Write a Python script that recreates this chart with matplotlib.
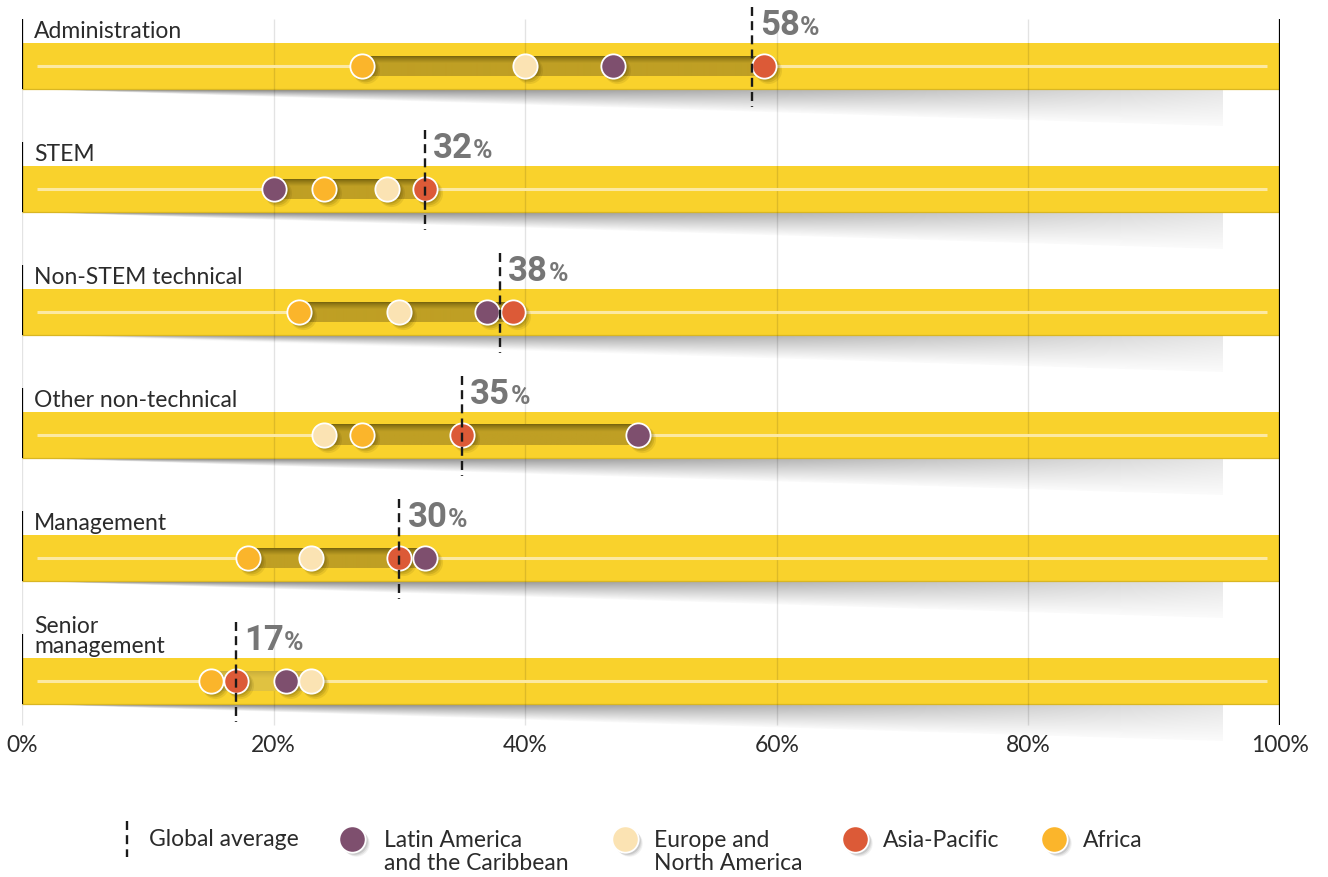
import numpy as np
import matplotlib
matplotlib.use("Agg")
import matplotlib.pyplot as plt
from matplotlib.patches import Polygon
from matplotlib.lines import Line2D
from matplotlib.transforms import offset_copy

# ---------------- data ----------------
categories = ["Administration", "STEM", "Non-STEM technical",
              "Other non-technical", "Management", "Senior\nmanagement"]
global_avg = [58, 32, 38, 35, 30, 17]
latin_america = [47, 20, 37, 49, 32, 21]
europe_na = [40, 29, 30, 24, 23, 23]
asia_pacific = [59, 32, 39, 35, 30, 17]
africa = [27, 24, 22, 27, 18, 15]
tick_values = [0, 20, 40, 60, 80, 100]
tick_labels = ["0%", "20%", "40%", "60%", "80%", "100%"]
legend_labels = ["Global average", "Latin America\nand the Caribbean",
                 "Europe and\nNorth America", "Asia-Pacific", "Africa"]

# ---------------- style ----------------
YELLOW = "#F9D22C"
PALE = "#FCE9A2"
RANGE = "#BF9F24"
RANGE_DARK = "#7A660E"
C_LATIN = "#7E4F6E"
C_EUROPE = "#FBE3B3"
C_ASIA = "#DC5A37"
C_AFRICA = "#FBB52B"
TXT = "#2b2b2b"
NUM = "#767676"
FONT = "Lato"
FS = 16.5

W, H = 1328, 878
fig = plt.figure(figsize=(W / 100, H / 100), dpi=100)
ax = fig.add_axes([22 / W, 0, 1258 / W, 1])
ROW = 123.0
P = 1.0 / ROW          # data units per pixel (vertical)
ax.set_xlim(0, 100)
ax.set_ylim((H - 67) / ROW, -67 / ROW)
ax.axis("off")

rows = np.arange(len(categories))

# yellow bars
ax.barh(rows, 100, left=0, height=46 * P, color=YELLOW, zorder=2)
ax.hlines(rows + 22.5 * P, 0, 100, color="#D9B623", lw=0.9, zorder=2.1)

# shadow wedges below bars
sh_w, sh_h = 300, 80
u = np.linspace(0, 1, sh_w)[None, :]
t = np.linspace(0, 1, sh_h)[:, None]
v = np.clip(t / np.maximum(u, 1e-3), 0, 1)
base = 0.40 + 0.50 * u ** 1.1
g = base + (0.985 - base) * v ** 1.0
g = np.clip(g, 0, 1)
shadow_img = np.dstack([g, g, g])
SH_END = 95.5
for r in rows:
    b = r + 23 * P
    depth = 37 * P
    im = ax.imshow(shadow_img, extent=(0, SH_END, b + depth, b), origin="upper",
                   aspect="auto", zorder=1, interpolation="bilinear")
    poly = Polygon([(0, b), (SH_END, b), (SH_END, b + depth)], closed=True,
                   transform=ax.transData, facecolor="none", edgecolor="none")
    ax.add_patch(poly)
    im.set_clip_path(poly)

# gridlines
ax.vlines(tick_values[:-1], rows[0] - 47 * P, rows[-1] + 44 * P,
          color="black", alpha=0.11, lw=1, zorder=3)
# right border line
ax.vlines(100, rows[0] - 47 * P, rows[-1] + 44 * P, color="black", lw=1.6, zorder=6)

# pale centre lines
ax.hlines(rows, 1.2, 99, color=PALE, lw=2.2, zorder=3)

# left per-row lines
ax.vlines(np.zeros(len(rows)), rows - 47 * P, rows + 23 * P, color="black",
          lw=1.6, zorder=6)

# range bars with dark top gradient
rg_h = 20
tt = np.linspace(0, 1, rg_h)[:, None, None]
c_dark = np.array(matplotlib.colors.to_rgb(RANGE_DARK))[None, None, :]
c_main = np.array(matplotlib.colors.to_rgb(RANGE))[None, None, :]
mix = np.clip(tt / 0.35, 0, 1) ** 0.8
range_img = c_dark * (1 - mix) + c_main * mix
all_series = np.array([latin_america, europe_na, asia_pacific, africa])
for r in rows:
    lo, hi = all_series[:, r].min(), all_series[:, r].max()
    img = range_img.copy()
    if r == rows[-1]:
        img = img * 0.35 + np.array(matplotlib.colors.to_rgb("#F3D552")) * 0.65
    ax.imshow(img, extent=(lo, hi, r + 10 * P, r - 10 * P), origin="upper",
              aspect="auto", zorder=4, interpolation="bilinear")

# markers with soft shadows
series = [(africa, C_AFRICA), (latin_america, C_LATIN),
          (europe_na, C_EUROPE), (asia_pacific, C_ASIA)]
MS = 17.5
for vals, col in series:
    for k, (dx, a) in enumerate([(4, 0.10), (3, 0.14), (2, 0.18)]):
        tr = offset_copy(ax.transData, fig=fig, x=dx, y=-dx, units="dots")
        ax.plot(vals, rows, "o", ms=MS + (2 - k), color="#4a3c00", alpha=a,
                mec="none", transform=tr, zorder=5)
for vals, col in series:
    ax.plot(vals, rows, "o", ms=MS, color=col, mec="white", mew=1.3, zorder=7)

# global average dashed lines + labels
for r, a in zip(rows, global_avg):
    ax.plot([a, a], [r - 59 * P, r + 41 * P], color="#1a1a1a", lw=1.7,
            linestyle=(0, (3.8, 2.2)), zorder=8)
    t1 = ax.text(a + 8 / 12.58, r - 32 * P, f"{a}", color=NUM, fontsize=25,
                 fontweight="bold", family="Roboto", ha="left", va="baseline",
                 zorder=9)
    ax.annotate("%", xy=(1, 0), xycoords=t1, xytext=(0.3, 0.21 * 25),
                textcoords="offset points", color=NUM, fontsize=19,
                fontweight="bold", family="Roboto", ha="left", va="baseline",
                zorder=9)

# category labels
for r, name in zip(rows, categories):
    ax.text(12 / 12.58, r - 29 * P, name, fontsize=FS, family=FONT, color=TXT,
            ha="left", va="baseline", linespacing=0.95, zorder=9)

# tick labels
for tv, tl in zip(tick_values, tick_labels):
    ax.text(tv, rows[-1] + 64 * P, tl, fontsize=FS, family=FONT, color=TXT,
            ha="center", va="center", zorder=9)

# ---------------- legend (figure pixel positions) ----------------
def fx(px):
    return px / W

def fy(py):
    return 1 - py / H

ly = 840
fig.add_artist(Line2D([fx(127), fx(127)], [fy(822), fy(858)], color="#1a1a1a",
                      lw=1.7, linestyle=(0, (3.8, 2.2))))
fig.text(fx(149), fy(ly), legend_labels[0], fontsize=FS, family=FONT, color=TXT,
         ha="left", va="center")
leg_items = [(352, 384, C_LATIN, legend_labels[1]),
             (625, 654, C_EUROPE, legend_labels[2]),
             (855, 883, C_ASIA, legend_labels[3]),
             (1054, 1083, C_AFRICA, legend_labels[4])]
for cx, tx, col, lab in leg_items:
    for dx, a in [(4, 0.08), (3, 0.12), (2, 0.16)]:
        fig.add_artist(Line2D([fx(cx + dx)], [fy(ly + dx)], marker="o", ms=19,
                              color="#555555", alpha=a, mec="none", lw=0))
    fig.add_artist(Line2D([fx(cx)], [fy(ly)], marker="o", ms=19, color=col,
                          mec="white", mew=1.3, lw=0))
    fig.text(fx(tx), fy(830), lab, fontsize=FS, family=FONT, color=TXT,
             ha="left", va="top", linespacing=1.12)

fig.savefig("out.png", dpi=100, facecolor="white")
